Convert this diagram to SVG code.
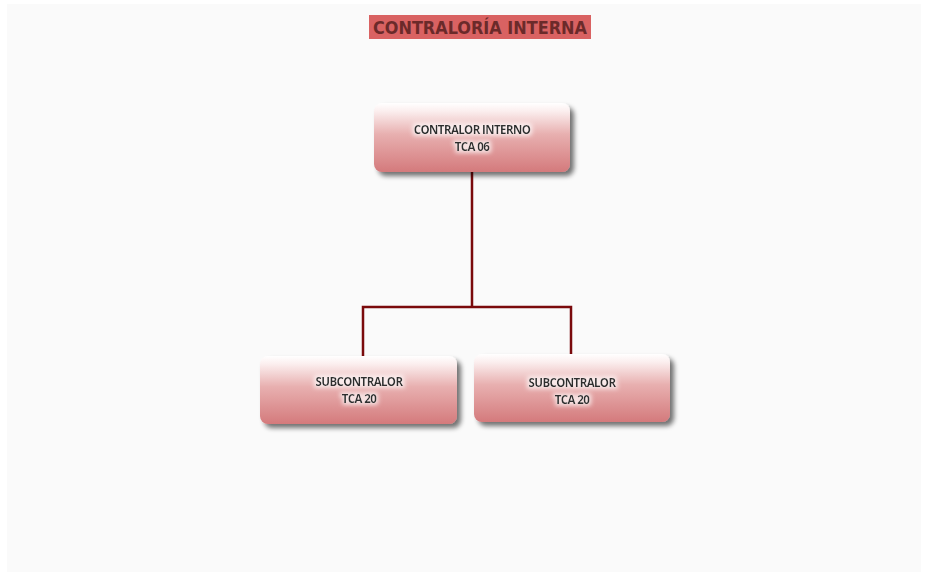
<svg xmlns="http://www.w3.org/2000/svg" width="925" height="577" viewBox="0 0 925 577">
  <defs>
    <linearGradient id="boxFill" x1="0" y1="0" x2="0" y2="1">
      <stop offset="0" stop-color="#ffffff"/>
      <stop offset="0.12" stop-color="#fbeeee"/>
      <stop offset="0.45" stop-color="#e8b0b0"/>
      <stop offset="1" stop-color="#d47a7c"/>
    </linearGradient>
    <filter id="shadow" x="-10%" y="-20%" width="130%" height="150%">
      <feGaussianBlur in="SourceAlpha" stdDeviation="2.5"/>
      <feOffset dx="4" dy="4" result="b"/>
      <feComponentTransfer><feFuncA type="linear" slope="0.55"/></feComponentTransfer>
      <feMerge><feMergeNode/><feMergeNode in="SourceGraphic"/></feMerge>
    </filter>
    <filter id="glow" x="-20%" y="-50%" width="140%" height="200%">
      <feMorphology in="SourceAlpha" operator="dilate" radius="1.5" result="d"/>
      <feGaussianBlur in="d" stdDeviation="2" result="g"/>
      <feFlood flood-color="#ffffff" flood-opacity="0.7"/>
      <feComposite in2="g" operator="in"/>
      <feMerge><feMergeNode/><feMergeNode in="SourceGraphic"/></feMerge>
    </filter>
  </defs>
  <style>
    .box { fill: url(#boxFill); filter: url(#shadow); }
    .label { font-family: "Open Sans", "Liberation Sans", sans-serif; font-size: 11.5px; font-weight: bold; fill: #2e2e2e; text-anchor: middle; letter-spacing: -0.6px; filter: url(#glow); }
    .link { fill: none; stroke: #7a0a0c; stroke-width: 2.5; }
    .title { font-family: "DejaVu Sans Condensed", "DejaVu Sans", sans-serif; font-size: 18px; font-weight: bold; fill: #6b2a2a; text-anchor: middle; }
  </style>

  <!-- page -->
  <rect width="925" height="577" fill="#ffffff"/>
  <rect x="7" y="4" width="914" height="568" fill="#fafafa"/>

  <!-- heading -->
  <g id="title">
    <rect x="369" y="15" width="222" height="24" fill="#d96262"/>
    <text class="title" x="480" y="34" textLength="214" lengthAdjust="spacingAndGlyphs">CONTRALORÍA INTERNA</text>
  </g>

  <!-- connectors -->
  <g id="connectors">
    <path class="link" d="M472 172 V307 M363 362 V307 H571 V361"/>
  </g>

  <!-- nodes -->
  <g id="contralor">
    <rect class="box" x="374" y="103" width="196" height="69" rx="8"/>
    <text class="label" x="472" y="134">CONTRALOR INTERNO</text>
    <text class="label" x="472" y="151">TCA 06</text>
  </g>
  <g id="subcontralor-1">
    <rect class="box" x="260" y="356" width="197" height="68" rx="8"/>
    <text class="label" x="359" y="386">SUBCONTRALOR</text>
    <text class="label" x="359" y="403">TCA 20</text>
  </g>
  <g id="subcontralor-2">
    <rect class="box" x="474" y="354" width="196" height="68" rx="8"/>
    <text class="label" x="572" y="387">SUBCONTRALOR</text>
    <text class="label" x="572" y="404">TCA 20</text>
  </g>
</svg>
